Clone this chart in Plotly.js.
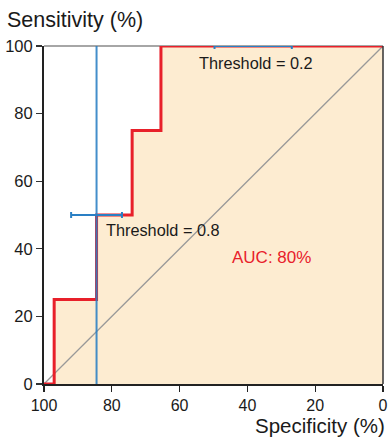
<!DOCTYPE html>
<html>
<head>
<meta charset="utf-8">
<script src="https://cdn.plot.ly/plotly-3.0.1.min.js"></script>
<style>html,body{margin:0;padding:0;background:#fff;}#chart{width:389px;height:438px;}</style>
</head>
<body>
<div id="chart"></div>
<script>
// ROC curve data (specificity %, sensitivity %)
const rocSpecificity = [100, 97, 84.5, 74, 65.5, 0];
const rocSensitivity = [0, 25, 50, 75, 100, 100];
// Reference (chance) diagonal
const diagSpecificity = [100, 0];
const diagSensitivity = [0, 100];
// Threshold 0.8 operating point: vertical line + horizontal CI
const thr08Spec = 84.5;
const thr08Sens = 50;
const thr08SpecErr = 7.5;
// Threshold 0.2 point
const thr02Spec = 38.3;
const thr02Sens = 100;
const thr02SpecErr = 11.4;
// Labels
const thr02Label = "Threshold = 0.2";
const thr08Label = "Threshold = 0.8";
const aucLabel = "AUC: 80%";
const tickVals = [0, 20, 40, 60, 80, 100];

const FONT = "Liberation Sans, Arial, Helvetica, sans-serif";
const RED = "#e8202a";
const BLUE = "#2a7fc4";

const traces = [
  { x: rocSpecificity, y: rocSensitivity, mode: "lines", line: {shape: "hv", width: 0},
    fill: "tozeroy", fillcolor: "#fdecd1", hoverinfo: "skip", showlegend: false },
  { x: diagSpecificity, y: diagSensitivity, mode: "lines", line: {color: "#999", width: 1.3},
    showlegend: false },
  { x: rocSpecificity, y: rocSensitivity, mode: "lines", line: {shape: "hv", color: RED, width: 3},
    cliponaxis: false, showlegend: false },
  { x: [thr08Spec, thr08Spec], y: [0, 100], mode: "lines", line: {color: BLUE, width: 2},
    opacity: 0.88, cliponaxis: false, showlegend: false },
  { x: [thr08Spec, thr02Spec], y: [thr08Sens, thr02Sens], mode: "markers",
    marker: {size: 1, color: "rgba(0,0,0,0)"},
    error_x: {type: "data", array: [thr08SpecErr, thr02SpecErr], symmetric: true, color: BLUE, thickness: 2, width: 3},
    cliponaxis: false, showlegend: false }
];

const layout = {
  width: 389, height: 438,
  margin: {l: 44, r: 6, t: 46, b: 54},
  paper_bgcolor: "#fff", plot_bgcolor: "#fff",
  font: {family: FONT, size: 16.5, color: "#1a1a1a"},
  title: {text: "Sensitivity (%)", font: {family: FONT, size: 21.5, color: "#1a1a1a"},
          x: 7/389, xanchor: "left", xref: "container", y: 1 - 19/438, yanchor: "middle", yref: "container"},
  xaxis: {range: [100, 0], tickvals: tickVals, ticks: "outside", ticklen: 6, tickwidth: 1.3, tickcolor: "#222",
          showline: true, linecolor: "#222", linewidth: 2, showgrid: false, zeroline: false,
          tickfont: {size: 16, color: "#1a1a1a"}, fixedrange: true},
  yaxis: {range: [0, 100], tickvals: tickVals, ticks: "outside", ticklen: 6, tickwidth: 1.3, tickcolor: "#333",
          showline: true, linecolor: "#222", linewidth: 2, showgrid: false, zeroline: false,
          tickfont: {size: 16.5, color: "#1a1a1a"}, fixedrange: true},
  shapes: [
    {type: "line", xref: "paper", yref: "paper", x0: 0, x1: 1, y0: 1, y1: 1, line: {color: "#888", width: 1.5}, layer: "below"},
    {type: "line", xref: "paper", yref: "paper", x0: 1, x1: 1, y0: 0, y1: 1, line: {color: "#333", width: 1.5}, layer: "above"}
  ],
  annotations: [
    {x: 37.5, y: 95, xref: "x", yref: "y", text: thr02Label, showarrow: false, font: {size: 16.3, color: "#1a1a1a"}},
    {x: 65, y: 45.5, xref: "x", yref: "y", text: thr08Label, showarrow: false, font: {size: 16.3, color: "#1a1a1a"}},
    {x: 33, y: 37.3, xref: "x", yref: "y", text: aucLabel, showarrow: false, font: {size: 17, color: RED}},
    {x: 1, y: 0, xref: "paper", yref: "paper", text: "Specificity (%)", showarrow: false,
     xanchor: "right", yanchor: "middle", borderpad: 0, font: {size: 20.5, color: "#1a1a1a"}}
  ]
};
// place the Specificity title by container pixels, converted into paper coords
layout.annotations[3].x = (386 - 44) / (389 - 44 - 6);
layout.annotations[3].y = (438 - 54 - 425.5) / (438 - 46 - 54);

Plotly.newPlot("chart", traces, layout, {displayModeBar: false, staticPlot: true});
</script>
</body>
</html>
